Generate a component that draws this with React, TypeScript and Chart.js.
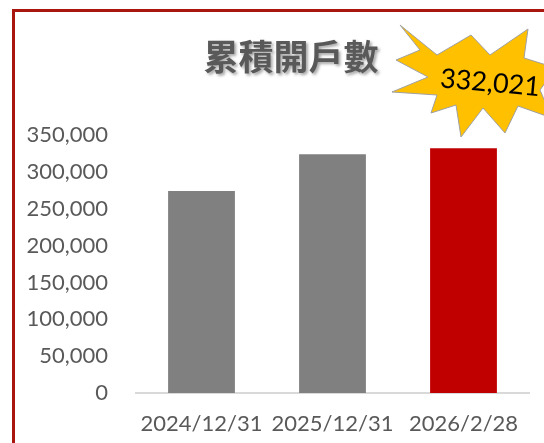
import React, { useEffect, useRef } from "react";
import { Chart, registerables } from "chart.js";

Chart.register(...registerables);

const categories: string[] = ["2024/12/31", "2025/12/31", "2026/2/28"];
const accountValues: number[] = [274000, 324000, 332021];
const barColors: string[] = ["#808080", "#808080", "#c00000"];
const chartTitle = "累積開戶數";
const yMin = 0;
const yMax = 350000;
const yStep = 50000;
const highlightIndex = 2;

const fmt = (v: number) => Number(v).toLocaleString("en-US");

const decorPlugin = {
  id: "decor",
  afterDraw(chart: any) {
    const ctx: CanvasRenderingContext2D = chart.ctx;
    const area = chart.chartArea;
    // Title
    ctx.save();
    ctx.font = "bold 35px 'Noto Sans CJK TC', 'Noto Sans CJK SC', sans-serif";
    ctx.fillStyle = "#595959";
    ctx.textAlign = "center";
    ctx.textBaseline = "middle";
    ctx.shadowColor = "rgba(0,0,0,0.35)";
    ctx.shadowOffsetX = 2;
    ctx.shadowOffsetY = 2;
    ctx.shadowBlur = 3;
    ctx.fillText(chartTitle, 291, area.top - 78);
    ctx.restore();

    // Starburst callout anchored on highlighted bar
    const bar = chart.getDatasetMeta(0).data[highlightIndex];
    const cx = bar.x + 6.5;
    const cy = area.top - 53;
    const pts: [number, number][] = [
      [-70, -57], [-33, -27], [1, -47], [20, -27], [58, -53], [54, -24],
      [86, -14], [70, 8], [82, 36], [48, 24], [35, 51], [13, 26],
      [-9, 55], [-14, 23], [-39, 31], [-33, 13], [-78, 10], [-42, -5],
      [-74, -22], [-50, -32],
    ];
    ctx.save();
    ctx.beginPath();
    pts.forEach(([dx, dy], i) => {
      if (i === 0) ctx.moveTo(cx + dx, cy + dy);
      else ctx.lineTo(cx + dx, cy + dy);
    });
    ctx.closePath();
    ctx.fillStyle = "#ffc000";
    ctx.fill();
    ctx.strokeStyle = "#a0a0a0";
    ctx.lineWidth = 1;
    ctx.stroke();
    ctx.translate(cx + 20, cy + 1);
    ctx.rotate(0.09);
    ctx.font = "27px Lato, 'Open Sans', sans-serif";
    ctx.fillStyle = "#000000";
    ctx.textAlign = "center";
    ctx.textBaseline = "middle";
    ctx.fillText(fmt(accountValues[highlightIndex]), 0, 0);
    ctx.restore();
  },
};

export default function App() {
  const ref = useRef<HTMLCanvasElement | null>(null);

  useEffect(() => {
    document.body.style.margin = "0";
    if (!ref.current) return;
    const chart = new Chart(ref.current, {
      type: "bar",
      data: {
        labels: categories,
        datasets: [
          {
            data: accountValues,
            backgroundColor: barColors,
            borderWidth: 0,
            categoryPercentage: 1,
            barPercentage: 0.51,
          },
        ],
      },
      options: {
        responsive: false,
        animation: false,
        devicePixelRatio: 1,
        layout: { padding: { top: 135, right: 15, bottom: 0, left: 0 } },
        plugins: {
          legend: { display: false },
          tooltip: { enabled: false },
          title: { display: false },
        },
        scales: {
          x: {
            grid: { display: false, drawTicks: false },
            border: { display: true, color: "#d9d9d9", width: 2 },
            ticks: {
              padding: 18,
              color: "#595959",
              font: { family: "Lato, 'Open Sans', sans-serif", size: 22 },
              maxRotation: 0,
            },
            afterFit: (scale: any) => {
              scale.height = 50;
            },
          },
          y: {
            min: yMin,
            max: yMax,
            grid: { display: false, drawTicks: false },
            border: { display: false },
            ticks: {
              stepSize: yStep,
              padding: 28,
              color: "#595959",
              font: { family: "Lato, 'Open Sans', sans-serif", size: 22 },
              callback: (v: any) => fmt(v),
            },
            afterFit: (scale: any) => {
              scale.width = 136;
            },
          },
        },
      },
      plugins: [decorPlugin],
    });
    return () => chart.destroy();
  }, []);

  return (
    <div
      style={{
        position: "relative",
        width: 544,
        height: 443,
        overflow: "hidden",
        background: "#ffffff",
      }}
    >
      <canvas ref={ref} width={544} height={443} style={{ display: "block" }} />
      <div
        style={{
          position: "absolute",
          left: 12,
          top: 9,
          width: 600,
          height: 500,
          borderLeft: "3px solid #a8160f",
          borderTop: "3px solid #a8160f",
          pointerEvents: "none",
        }}
      />
    </div>
  );
}
